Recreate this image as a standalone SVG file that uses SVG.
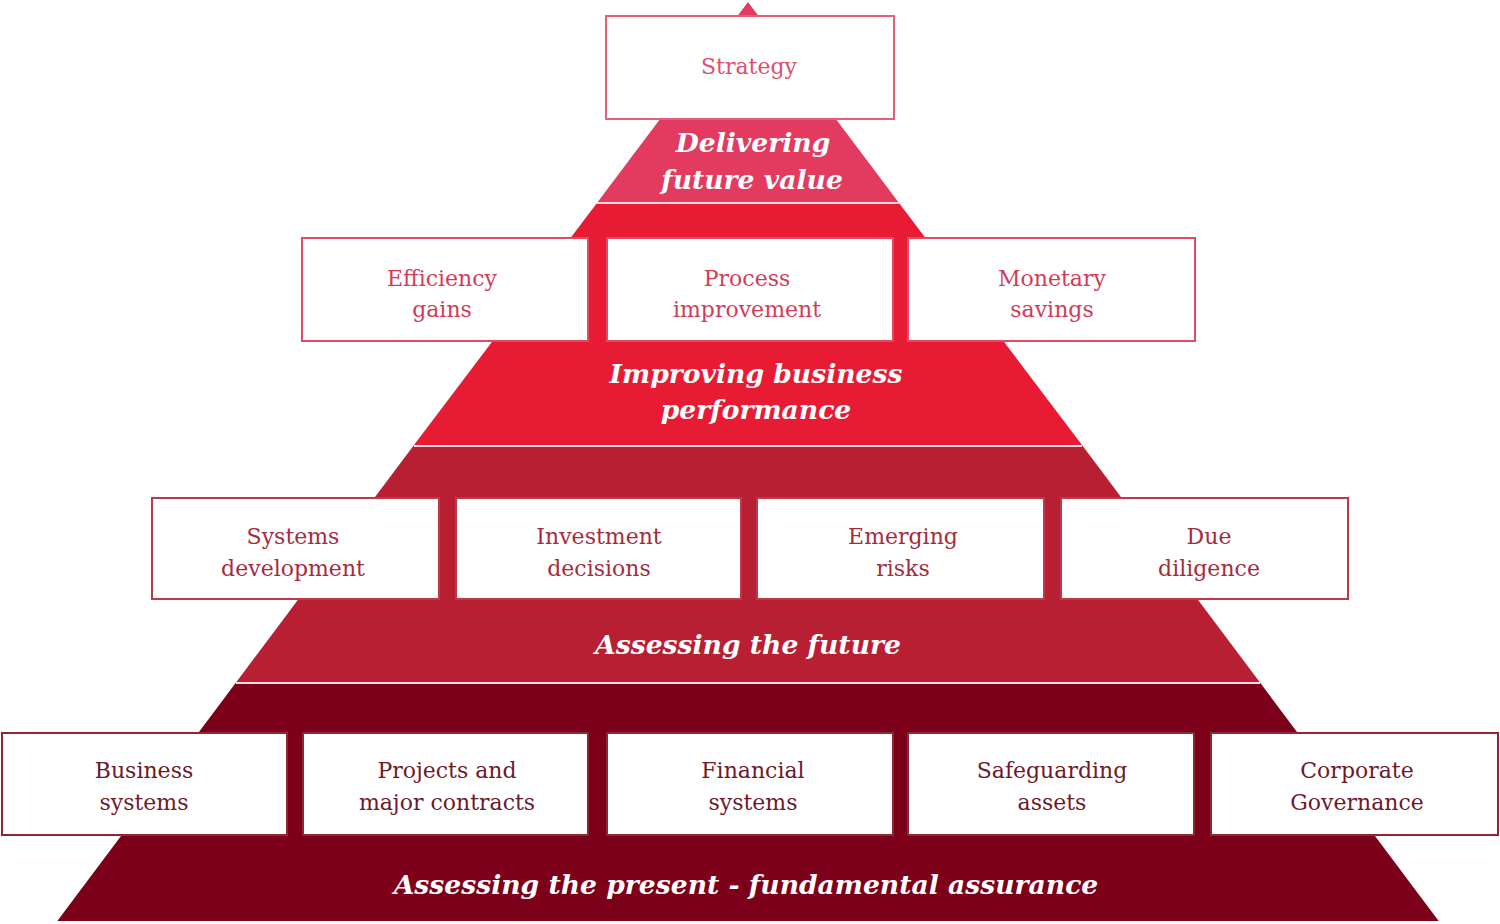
<svg xmlns="http://www.w3.org/2000/svg" width="1500" height="924" viewBox="0 0 1500 924">
<style>
.box{fill:#ffffff;stroke-width:2}
.t{font-family:"DejaVu Serif","Liberation Serif",serif;font-size:22px;text-anchor:middle}
.lab{font-family:"DejaVu Serif","Liberation Serif",serif;font-size:26.6px;font-weight:bold;font-style:italic;fill:#ffffff;text-anchor:middle}
.sep{stroke:#f8dbe0;stroke-width:2}
.r1 .box{stroke:#e3607c}.r1 .t{fill:#e0506e}
.r2 .box{stroke:#e24a63}.r2 .t{fill:#d23c58}
.r3 .box{stroke:#c0394b}.r3 .t{fill:#a52c3d}
.r4 .box{stroke:#8e2636}.r4 .t{fill:#6e1a2a}
</style>
<rect width="1500" height="924" fill="#ffffff"/>
<g id="pyramid">
<polygon id="band1" points="748,2 597.7,202 898.3,202" fill="#e33b5f"/>
<polygon id="band2" points="597.7,202 898.3,202 1082,445 414,445" fill="#e81b35"/>
<polygon id="band3" points="414,445 1082,445 1259.6,682 236.4,682" fill="#b81f33"/>
<polygon id="band4" points="236.4,682 1259.6,682 1438.7,921 57.3,921" fill="#7c0019"/>
<line class="sep" x1="596" y1="203" x2="900" y2="203"/>
<line class="sep" x1="414" y1="446" x2="1082" y2="446"/>
<line class="sep" x1="236" y1="683" x2="1260" y2="683"/>
</g>
<g id="connectors"/>
<g id="label-delivering">
<text class="lab" x="753" y="152">Delivering</text>
<text class="lab" x="752" y="189">future value</text>
</g>
<g id="label-improving">
<text class="lab" x="756" y="383">Improving business</text>
<text class="lab" x="756" y="419">performance</text>
</g>
<g id="label-future">
<text class="lab" x="748" y="654">Assessing the future</text>
</g>
<g id="label-present">
<text class="lab" x="746" y="894">Assessing the present - fundamental assurance</text>
</g>
<g class="r1">
<g id="strategy"><rect class="box" x="606" y="16" width="288" height="103"/><text class="t" x="749" y="74">Strategy</text></g>
</g>
<g class="r2">
<g id="efficiency-gains"><rect class="box" x="302" y="238" width="286" height="103"/><text class="t" x="442" y="286">Efficiency</text><text class="t" x="442" y="317">gains</text></g>
<g id="process-improvement"><rect class="box" x="607" y="238" width="286" height="103"/><text class="t" x="747" y="286">Process</text><text class="t" x="747" y="317">improvement</text></g>
<g id="monetary-savings"><rect class="box" x="908" y="238" width="287" height="103"/><text class="t" x="1052" y="286">Monetary</text><text class="t" x="1052" y="317">savings</text></g>
</g>
<g class="r3">
<g id="systems-development"><rect class="box" x="152" y="498" width="287" height="101"/><text class="t" x="293" y="544">Systems</text><text class="t" x="293" y="576">development</text></g>
<g id="investment-decisions"><rect class="box" x="456" y="498" width="285" height="101"/><text class="t" x="599" y="544">Investment</text><text class="t" x="599" y="576">decisions</text></g>
<g id="emerging-risks"><rect class="box" x="757" y="498" width="287" height="101"/><text class="t" x="903" y="544">Emerging</text><text class="t" x="903" y="576">risks</text></g>
<g id="due-diligence"><rect class="box" x="1061" y="498" width="287" height="101"/><text class="t" x="1209" y="544">Due</text><text class="t" x="1209" y="576">diligence</text></g>
</g>
<g class="r4">
<g id="business-systems"><rect class="box" x="2" y="733" width="285" height="102"/><text class="t" x="144" y="778">Business</text><text class="t" x="144" y="810">systems</text></g>
<g id="projects-contracts"><rect class="box" x="303" y="733" width="285" height="102"/><text class="t" x="447" y="778">Projects and</text><text class="t" x="447" y="810">major contracts</text></g>
<g id="financial-systems"><rect class="box" x="607" y="733" width="286" height="102"/><text class="t" x="753" y="778">Financial</text><text class="t" x="753" y="810">systems</text></g>
<g id="safeguarding-assets"><rect class="box" x="908" y="733" width="286" height="102"/><text class="t" x="1052" y="778">Safeguarding</text><text class="t" x="1052" y="810">assets</text></g>
<g id="corporate-governance"><rect class="box" x="1211" y="733" width="287" height="102"/><text class="t" x="1357" y="778">Corporate</text><text class="t" x="1357" y="810">Governance</text></g>
</g>
</svg>
